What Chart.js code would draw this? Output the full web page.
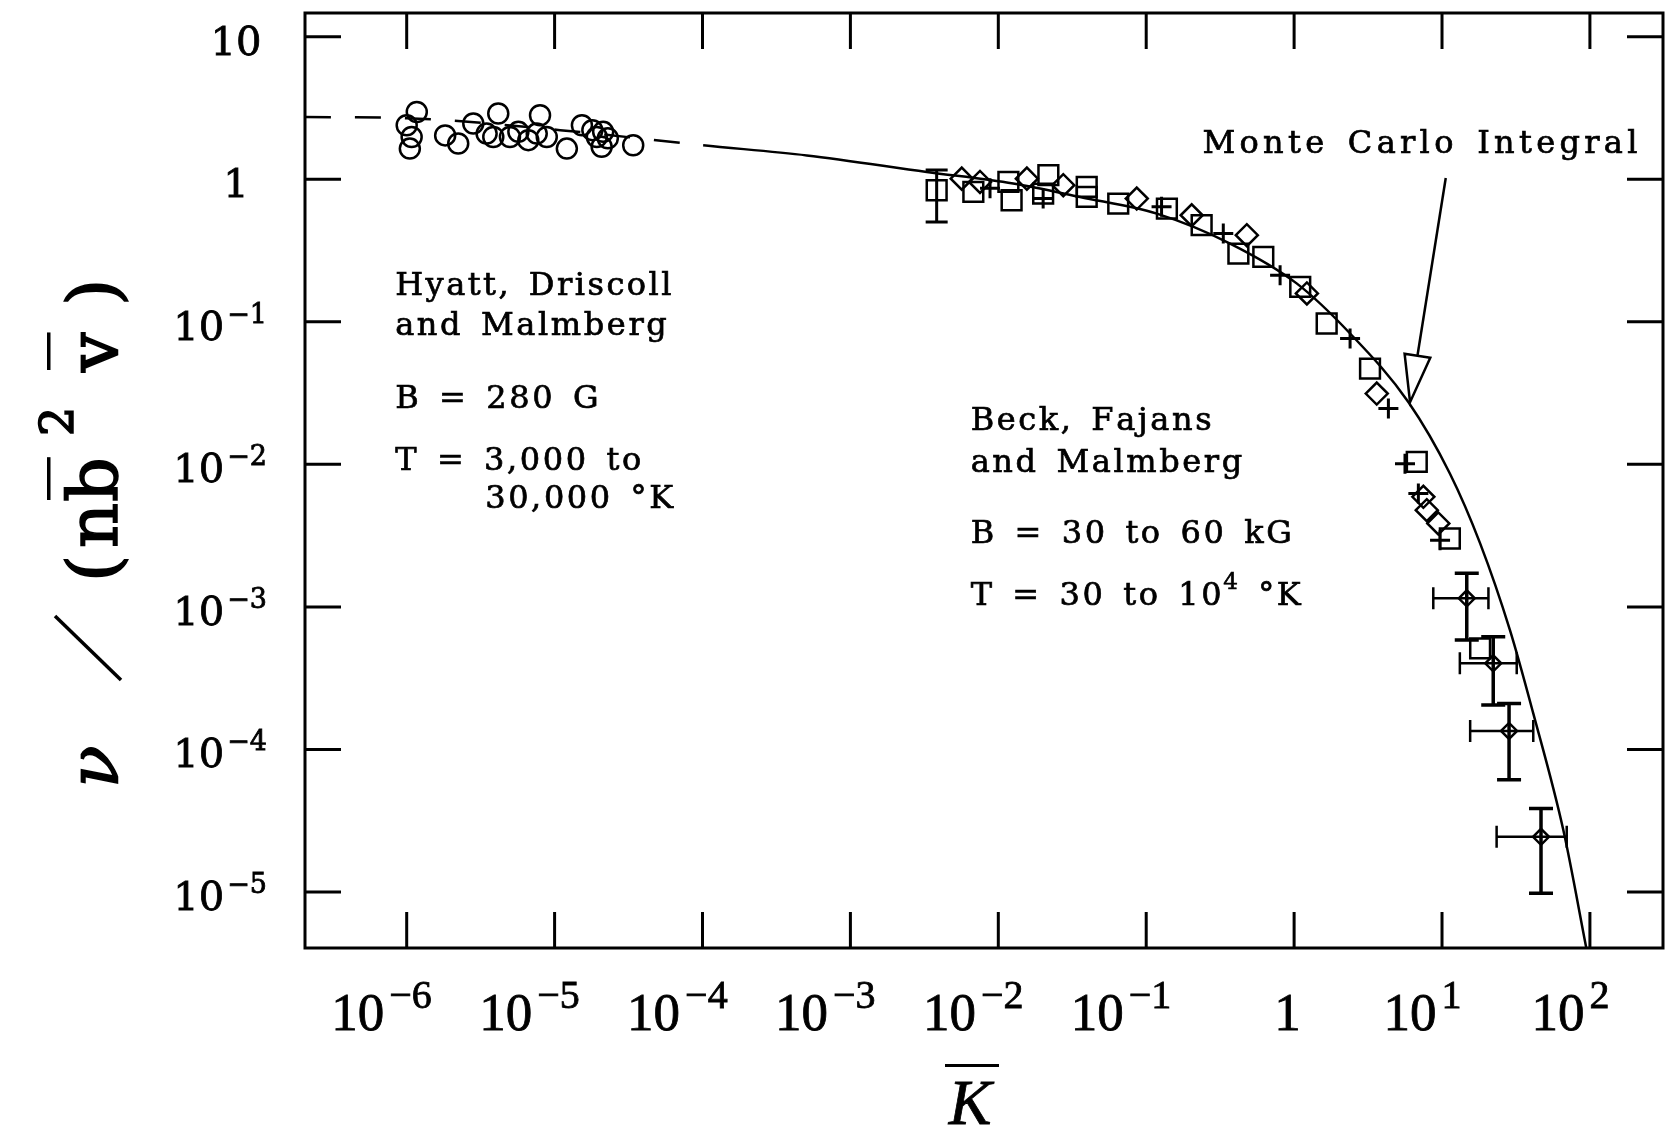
<!DOCTYPE html>
<html>
<head>
<meta charset="utf-8">
<script src="https://cdn.jsdelivr.net/npm/chart.js@4.4.1/dist/chart.umd.min.js"></script>
<style>
  html, body { margin: 0; padding: 0; background: #fff; }
  canvas { display: block; }
</style>
</head>
<body>
<canvas id="myChart" width="1665" height="1131"></canvas>
<script>
// axis ticks
var xTickValues = [1e-6, 1e-5, 1e-4, 1e-3, 1e-2, 1e-1, 1, 10, 100];
var xTickLabels = ['10^-6', '10^-5', '10^-4', '10^-3', '10^-2', '10^-1', '1', '10^1', '10^2'];
var yTickValues = [1e-5, 1e-4, 1e-3, 1e-2, 1e-1, 1, 10];
var yTickLabels = ['10^-5', '10^-4', '10^-3', '10^-2', '10^-1', '1', '10'];

// Hyatt, Driscoll and Malmberg (open circles)
var hyattK  = [1.17e-6, 1.0e-6, 1.08e-6, 1.05e-6, 1.82e-6, 2.23e-6, 2.82e-6, 3.47e-6, 3.85e-6, 4.16e-6, 4.99e-6, 5.69e-6, 6.64e-6, 7.57e-6, 7.97e-6, 8.85e-6, 1.21e-5, 1.53e-5, 1.80e-5, 1.93e-5, 2.08e-5, 2.13e-5, 2.29e-5, 3.40e-5];
var hyattNu = [2.96, 2.39, 1.98, 1.64, 2.03, 1.78, 2.46, 2.09, 1.98, 2.89, 1.98, 2.15, 1.88, 2.09, 2.81, 1.98, 1.64, 2.39, 2.21, 1.98, 1.69, 2.15, 1.94, 1.73];

// Beck, Fajans and Malmberg
var squareK  = [3.83e-3, 6.78e-3, 0.0117, 0.0123, 0.0218, 0.0201, 0.0396, 0.0396, 0.0647, 0.138, 0.237, 0.420, 0.619, 1.10, 1.66, 3.26, 6.75, 11.3, 18.1];
var squareNu = [0.837, 0.815, 0.957, 0.712, 1.07, 0.794, 0.883, 0.751, 0.675, 0.623, 0.476, 0.301, 0.285, 0.176, 0.0973, 0.0470, 0.0104, 3.02e-3, 5.12e-4];
var diamondK  = [5.66e-3, 7.52e-3, 0.0156, 0.0275, 0.0863, 0.203, 0.479, 1.22, 3.62, 7.48, 7.89, 9.44];
var diamondNu = [1.01, 0.957, 1.01, 0.908, 0.732, 0.559, 0.405, 0.158, 0.0314, 5.92e-3, 4.77e-3, 3.85e-3];
var plusK  = [8.79e-3, 0.0201, 0.127, 0.332, 0.804, 2.39, 4.34, 5.62, 6.92, 9.70];
var plusNu = [0.865, 0.732, 0.640, 0.416, 0.212, 0.0764, 0.0247, 0.0101, 6.25e-3, 2.94e-3];

// points with error bars
var errK      = [14.7, 22.2, 28.4, 46.7];
var errNu     = [1.15e-3, 4.02e-4, 1.35e-4, 2.44e-5];
var errKLow   = [8.73, 13.2, 15.5, 23.4];
var errKHigh  = [20.6, 32.0, 41.4, 69.7];
var errNuLow  = [5.85e-4, 2.05e-4, 6.14e-5, 9.8e-6];
var errNuHigh = [1.72e-3, 6.17e-4, 2.10e-4, 3.86e-5];
// vertical bar on the first square
var barK = [3.83e-3];
var barNuLow = [0.502];
var barNuHigh = [1.16];

// Monte Carlo integral curve (dashed up to index 3)
var curveK  = [2.05e-7, 1e-6, 1.09e-5, 1.01e-4, 5.07e-4, 3.28e-3, 1.26e-2, 3.57e-2, 0.118, 0.369, 1.04, 2.39, 5.92, 11.3, 18.1, 28.8, 41.4, 66.1, 95.1];
var curveNu = [2.73, 2.68, 2.21, 1.73, 1.47, 1.125, 0.933, 0.751, 0.574, 0.354, 0.186, 0.0828, 0.0274, 8.63e-3, 2.79e-3, 6.87e-4, 1.79e-4, 2.72e-5, 3.92e-6];
var curveDashEnd = 3;

// annotation anchors (data coords)
var hyattNote = { k: 8.36e-7, nu: 0.154 };
var beckNote = { k: 6.5e-3, nu: 0.0174 };
var monteNote = { k: 0.24, nu: 1.52 };
var arrowFrom = { k: 10.6, nu: 1.02 };
var arrowTo = { k: 6.08, nu: 0.0273 };

function pts(xs, ys) {
    return xs.map(function (x, i) { return { x: x, y: ys[i] }; });
}

var noteFont = '32px "DejaVu Serif"';
var wordGap = 5;

// fill plus a hairline stroke, a bit heavier like the scanned print
function inkText(ctx, s, x, y) {
    ctx.fillText(s, x, y);
    ctx.strokeText(s, x, y);
}

function spacedText(ctx, str, x, y, sp) {
    for (var i = 0; i < str.length; i++) {
        inkText(ctx, str[i], x, y);
        x += ctx.measureText(str[i]).width + sp + (str[i] === ' ' ? wordGap : 0);
    }
    return x;
}

function richLine(ctx, parts, x, y, sp) {
    parts.forEach(function (p) {
        if (p.sup) {
            ctx.font = '23px "DejaVu Serif"';
            x = spacedText(ctx, p.t, x - 1, y - 16, sp);
            ctx.font = noteFont;
        } else {
            x = spacedText(ctx, p.t, x, y, sp);
        }
    });
}

function drawPower(ctx, label, x, y, o) {
    var p = label.split('^');
    var base = p[0];
    var ex = p.length > 1 ? p[1].replace('-', '\u2212') : '';
    ctx.font = o.baseFont;
    var wb = ctx.measureText(base).width;
    ctx.font = o.expFont;
    var we = ex ? ctx.measureText(ex).width + o.gap : 0;
    var w = wb + we;
    var left;
    if (o.mode === 'x') left = x - 0.75 * w;
    else left = ex ? x - w : o.plainX - wb / 2;
    ctx.font = o.baseFont;
    inkText(ctx, base, left, y);
    if (ex) {
        ctx.font = o.expFont;
        inkText(ctx, ex, left + wb + o.gap, y - o.rise);
    }
}

var paperPlugin = {
    id: 'paper',
    afterDatasetsDraw: function (chart) {
        var ctx = chart.ctx, xs = chart.scales.x, ys = chart.scales.y, a = chart.chartArea;
        ctx.save();
        ctx.beginPath();
        ctx.rect(a.left, a.top, a.right - a.left, a.bottom - a.top);
        ctx.clip();
        ctx.strokeStyle = '#000';
        for (var i = 0; i < errK.length; i++) {
            var px = xs.getPixelForValue(errK[i]), py = ys.getPixelForValue(errNu[i]);
            var x1 = xs.getPixelForValue(errKLow[i]), x2 = xs.getPixelForValue(errKHigh[i]);
            var y1 = ys.getPixelForValue(errNuLow[i]), y2 = ys.getPixelForValue(errNuHigh[i]);
            ctx.lineWidth = 2.5;
            ctx.beginPath();
            ctx.moveTo(x1, py); ctx.lineTo(x2, py);
            ctx.moveTo(x1, py - 11); ctx.lineTo(x1, py + 11);
            ctx.moveTo(x2, py - 11); ctx.lineTo(x2, py + 11);
            ctx.stroke();
            ctx.lineWidth = 3.5;
            ctx.beginPath();
            ctx.moveTo(px, y1); ctx.lineTo(px, y2);
            ctx.moveTo(px - 12, y1); ctx.lineTo(px + 12, y1);
            ctx.moveTo(px - 12, y2); ctx.lineTo(px + 12, y2);
            ctx.stroke();
        }
        for (var j = 0; j < barK.length; j++) {
            var bx = xs.getPixelForValue(barK[j]);
            var b1 = ys.getPixelForValue(barNuLow[j]), b2 = ys.getPixelForValue(barNuHigh[j]);
            ctx.lineWidth = 3;
            ctx.beginPath();
            ctx.moveTo(bx, b1); ctx.lineTo(bx, b2);
            ctx.moveTo(bx - 11, b1); ctx.lineTo(bx + 11, b1);
            ctx.moveTo(bx - 11, b2); ctx.lineTo(bx + 11, b2);
            ctx.stroke();
        }
        // arrow to the curve
        var ax = xs.getPixelForValue(arrowFrom.k), ay = ys.getPixelForValue(arrowFrom.nu);
        var tx = xs.getPixelForValue(arrowTo.k), ty = ys.getPixelForValue(arrowTo.nu);
        var dx = tx - ax, dy = ty - ay, len = Math.sqrt(dx * dx + dy * dy);
        var ux = dx / len, uy = dy / len;
        var bxm = tx - ux * 47, bym = ty - uy * 47;
        ctx.lineWidth = 2.5;
        ctx.beginPath();
        ctx.moveTo(ax, ay); ctx.lineTo(bxm, bym);
        ctx.stroke();
        ctx.beginPath();
        ctx.moveTo(tx, ty);
        ctx.lineTo(bxm - uy * 13, bym + ux * 13);
        ctx.lineTo(bxm + uy * 13, bym - ux * 13);
        ctx.closePath();
        ctx.stroke();
        ctx.restore();
    },
    afterDraw: function (chart) {
        var ctx = chart.ctx, xs = chart.scales.x, ys = chart.scales.y, a = chart.chartArea;
        ctx.save();
        ctx.strokeStyle = '#000';
        ctx.fillStyle = '#000';
        // frame
        ctx.lineWidth = 3;
        ctx.strokeRect(a.left, a.top, a.right - a.left, a.bottom - a.top);
        // inward ticks on all four sides
        ctx.beginPath();
        xs.ticks.forEach(function (t) {
            var px = xs.getPixelForValue(t.value);
            ctx.moveTo(px, a.bottom); ctx.lineTo(px, a.bottom - 36);
            ctx.moveTo(px, a.top); ctx.lineTo(px, a.top + 36);
        });
        ys.ticks.forEach(function (t) {
            var py = ys.getPixelForValue(t.value);
            ctx.moveTo(a.left, py); ctx.lineTo(a.left + 36, py);
            ctx.moveTo(a.right, py); ctx.lineTo(a.right - 36, py);
        });
        ctx.stroke();

        // tick labels
        ctx.lineWidth = 0.8;
        ctx.textBaseline = 'alphabetic';
        ctx.textAlign = 'left';
        xs.ticks.forEach(function (t, i) {
            drawPower(ctx, xTickLabels[i], xs.getPixelForValue(t.value), a.bottom + 82, {
                mode: 'x', baseFont: '53px "Liberation Serif"', expFont: '40px "Liberation Serif"', gap: 5, rise: 22
            });
        });
        ys.ticks.forEach(function (t, i) {
            drawPower(ctx, yTickLabels[i], a.left - 38, ys.getPixelForValue(t.value) + 18, {
                mode: 'y', plainX: a.left - 69, baseFont: '40px "DejaVu Serif"', expFont: '27px "DejaVu Serif"', gap: 3, rise: 17
            });
        });

        // x title: K with overbar
        ctx.font = 'italic 64px "Liberation Serif"';
        ctx.textAlign = 'center';
        var kx = (a.left + a.right) / 2 - 14;
        inkText(ctx, 'K', kx, a.bottom + 176);
        ctx.fillRect(kx - 25, a.bottom + 116, 54, 3);

        // y title: nu / (n b^2 v), rotated
        ctx.save();
        ctx.translate(a.left - 188, a.bottom - 160);
        ctx.rotate(-Math.PI / 2);
        ctx.textAlign = 'left';
        var big = '70px "DejaVu Serif"';
        var pieces = [
            { t: '\u03BD', f: 'italic ' + big, at: 0 },
            { t: '(', f: big, at: 206 },
            { t: 'n', f: big, at: 240 },
            { t: 'b', f: big, at: 286, over: true },
            { t: '2', f: '46px "DejaVu Serif"', at: 352, rise: 44 },
            { t: 'v', f: big, at: 416, over: true },
            { t: ')', f: big, at: 482 }
        ];
        ctx.lineWidth = 1.5;
        pieces.forEach(function (p) {
            ctx.font = p.f;
            var w = ctx.measureText(p.t).width;
            inkText(ctx, p.t, p.at, -(p.rise || 0));
            if (p.over) ctx.fillRect(p.at + 2, -70, w - 2, 3.5);
        });
        // the slash, long and thin
        ctx.lineWidth = 3.5;
        ctx.beginPath();
        ctx.moveTo(108, 4);
        ctx.lineTo(172, -62);
        ctx.stroke();
        ctx.restore();

        // notes
        ctx.textAlign = 'left';
        ctx.font = noteFont;
        ctx.lineWidth = 0.7;
        var hx = xs.getPixelForValue(hyattNote.k), hy = ys.getPixelForValue(hyattNote.nu);
        spacedText(ctx, 'Hyatt, Driscoll', hx, hy, 2.5);
        spacedText(ctx, 'and Malmberg', hx, hy + 40, 2.6);
        spacedText(ctx, 'B = 280 G', hx, hy + 113, 2.6);
        spacedText(ctx, 'T = 3,000 to', hx, hy + 175, 2.6);
        spacedText(ctx, '30,000 \u00B0K', hx + 90, hy + 213, 2.6);

        var bx = xs.getPixelForValue(beckNote.k), by = ys.getPixelForValue(beckNote.nu);
        spacedText(ctx, 'Beck, Fajans', bx, by, 2.6);
        spacedText(ctx, 'and Malmberg', bx, by + 42, 2.6);
        spacedText(ctx, 'B = 30 to 60 kG', bx, by + 113, 2.6);
        richLine(ctx, [{ t: 'T = 30 to 10' }, { t: '4', sup: true }, { t: ' \u00B0K' }], bx, by + 175, 2.6);

        var mx = xs.getPixelForValue(monteNote.k), my = ys.getPixelForValue(monteNote.nu);
        spacedText(ctx, 'Monte Carlo Integral', mx, my, 4.3);
        ctx.restore();
    }
};

var chartdata = {
    datasets: [
        {
            type: 'line',
            label: 'Monte Carlo Integral',
            data: pts(curveK, curveNu),
            borderColor: '#000',
            borderWidth: 2.5,
            pointRadius: 0,
            fill: false,
            cubicInterpolationMode: 'monotone',
            segment: {
                borderDash: function (ctx) { return ctx.p1DataIndex <= curveDashEnd ? [26, 24] : undefined; }
            }
        },
        {
            label: 'Hyatt, Driscoll and Malmberg',
            data: pts(hyattK, hyattNu),
            pointStyle: 'circle',
            pointRadius: 10,
            borderWidth: 2.5,
            borderColor: '#000',
            backgroundColor: 'rgba(0,0,0,0)'
        },
        {
            label: 'squares',
            data: pts(squareK, squareNu),
            pointStyle: 'rect',
            pointRadius: 14,
            borderWidth: 2.5,
            borderColor: '#000',
            backgroundColor: 'rgba(0,0,0,0)'
        },
        {
            label: 'diamonds',
            data: pts(diamondK, diamondNu),
            pointStyle: 'rectRot',
            pointRadius: 11,
            borderWidth: 2.5,
            borderColor: '#000',
            backgroundColor: 'rgba(0,0,0,0)'
        },
        {
            label: 'plus',
            data: pts(plusK, plusNu),
            pointStyle: 'cross',
            pointRadius: 10,
            borderWidth: 3,
            borderColor: '#000',
            backgroundColor: 'rgba(0,0,0,0)'
        },
        {
            label: 'error points',
            data: pts(errK, errNu),
            pointStyle: 'rectRot',
            pointRadius: 8,
            borderWidth: 2.5,
            borderColor: '#000',
            backgroundColor: 'rgba(0,0,0,0)'
        }
    ]
};

var graphTarget = document.getElementById('myChart');
var paperChart = new Chart(graphTarget, {
    type: 'scatter',
    data: chartdata,
    options: {
        responsive: false,
        animation: false,
        devicePixelRatio: 1,
        layout: { autoPadding: false, padding: { top: 13, right: 2, left: 0, bottom: 0 } },
        plugins: { legend: { display: false }, tooltip: { enabled: false } },
        scales: {
            x: {
                type: 'logarithmic',
                min: 2.053e-7,
                max: 312,
                bounds: 'data',
                grid: { display: false },
                border: { display: false },
                ticks: { display: false },
                afterBuildTicks: function (s) { s.ticks = xTickValues.map(function (v) { return { value: v }; }); },
                afterFit: function (s) { s.height = 183; }
            },
            y: {
                type: 'logarithmic',
                min: 4.05e-6,
                max: 14.66,
                bounds: 'data',
                grid: { display: false },
                border: { display: false },
                ticks: { display: false },
                afterBuildTicks: function (s) { s.ticks = yTickValues.map(function (v) { return { value: v }; }); },
                afterFit: function (s) { s.width = 305; }
            }
        }
    },
    plugins: [paperPlugin]
});
</script>
</body>
</html>
